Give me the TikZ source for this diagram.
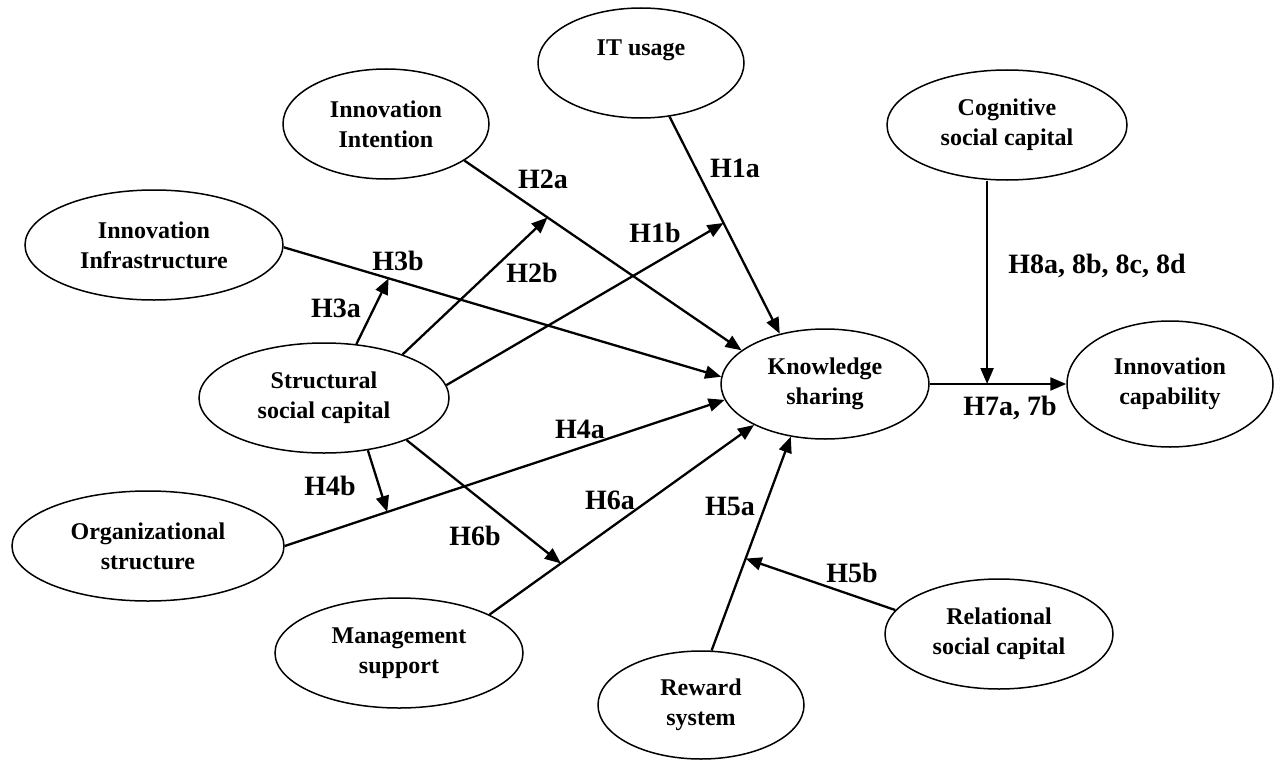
\documentclass[tikz,border=0pt]{standalone}
\usepackage{fontspec}
\setmainfont{Liberation Serif}
\usetikzlibrary{arrows.meta,calc,shapes.geometric}
\begin{document}
\begin{tikzpicture}[x=1pt,y=-1pt,
  el/.style={draw, line width=1.5pt, ellipse, inner sep=0pt, align=center,
    font=\fontsize{24}{30}\selectfont\bfseries},
  lab/.style={font=\fontsize{28}{34}\selectfont\bfseries, inner sep=0pt, anchor=base},
  arr/.style={line width=2.3pt, -{Triangle[length=16pt,width=13pt]}}]
\useasboundingbox (0,0) rectangle (1282,760);
% nodes
\node[el, minimum width=206pt, minimum height=110pt] (it)  at (641,63)  {IT usage\\\mbox{}};
\node[el, minimum width=206pt, minimum height=110pt] (ii)  at (386,124) {Innovation\\Intention};
\node[el, minimum width=258pt, minimum height=110pt] (inf) at (154,245) {Innovation\\Infrastructure};
\node[el, minimum width=250pt, minimum height=110pt] (ssc) at (324,398) {Structural\\social capital};
\node[el, minimum width=208pt, minimum height=110pt] (ks)  at (825,384) {Knowledge\\sharing};
\node[el, minimum width=206pt, minimum height=126pt] (ic)  at (1170,384) {Innovation\\capability};
\node[el, minimum width=240pt, minimum height=110pt] (cog) at (1007,125) {Cognitive\\social capital};
\node[el, minimum width=272pt, minimum height=110pt] (os)  at (148,546) {Organizational\\structure};
\node[el, minimum width=248pt, minimum height=110pt] (ms)  at (399,653) {Management\\support};
\node[el, minimum width=228pt, minimum height=110pt] (rel) at (999,634) {Relational\\social capital};
\node[el, minimum width=206pt, minimum height=108pt] (rw)  at (701,705) {Reward\\system};
% main paths
\draw[arr] (it.-62.6) -- (ks.132.6);
\draw[arr] (ii.-25.7) -- (ks.158.9);
\draw[arr] (inf.-1.3) -- (ks.176.7);
\draw[arr] (os.0) -- (ks.189.7);
\draw[arr] (ms.23.7) -- (ks.210.3);
\draw[arr] (rw.79.7) -- (ks.237.6);
\draw[arr] (ks.east) -- (ic.west);
% moderation points
\coordinate (m1) at ($(it.-62.6)!0.49!(ks.132.6)$);
\coordinate (m2) at ($(ii.-25.7)!0.30!(ks.158.9)$);
\coordinate (m3) at ($(inf.-1.3)!0.24!(ks.176.7)$);
\coordinate (m4) at ($(os.0)!0.233!(ks.189.7)$);
\coordinate (m6) at ($(ms.23.7)!0.27!(ks.210.3)$);
\coordinate (m5) at ($(rw.79.7)!0.43!(ks.237.6)$);
\coordinate (m8) at ($(ks.east)!0.42!(ic.west)$);
\draw[arr] (ssc.6) -- (m1);
\draw[arr] (ssc.29.9) -- (m2);
\draw[arr] (ssc.59) -- (m3);
\draw[arr] (ssc.-50.8) -- (m4);
\draw[arr] (ssc.-27.6) -- (m6);
\draw[arr] (rel.167.8) -- (m5);
\draw[arr] (cog.south -| m8) -- (m8);
% labels
\node[lab] (l1a) at (735,177) {H1a};
\node[lab] (l2a) at (543,188) {H2a};
\node[lab] (l1b) at (655,242) {H1b};
\node[lab] (l2b) at (532,282) {H2b};
\node[lab] (l3b) at (398,270) {H3b};
\node[lab] (l3a) at (336,317) {H3a};
\node[lab] (l4a) at (580,438) {H4a};
\node[lab] (l4b) at (330,495) {H4b};
\node[lab] (l6b) at (475,545) {H6b};
\node[lab] (l6a) at (610,509) {H6a};
\node[lab] (l5a) at (730,515) {H5a};
\node[lab] (l5b) at (852,582) {H5b};
\node[lab] (l7)  at (1010,415) {H7a, 7b};
\node[lab] (l8)  at (1097,273) {H8a, 8b, 8c, 8d};
\end{tikzpicture}
\end{document}
